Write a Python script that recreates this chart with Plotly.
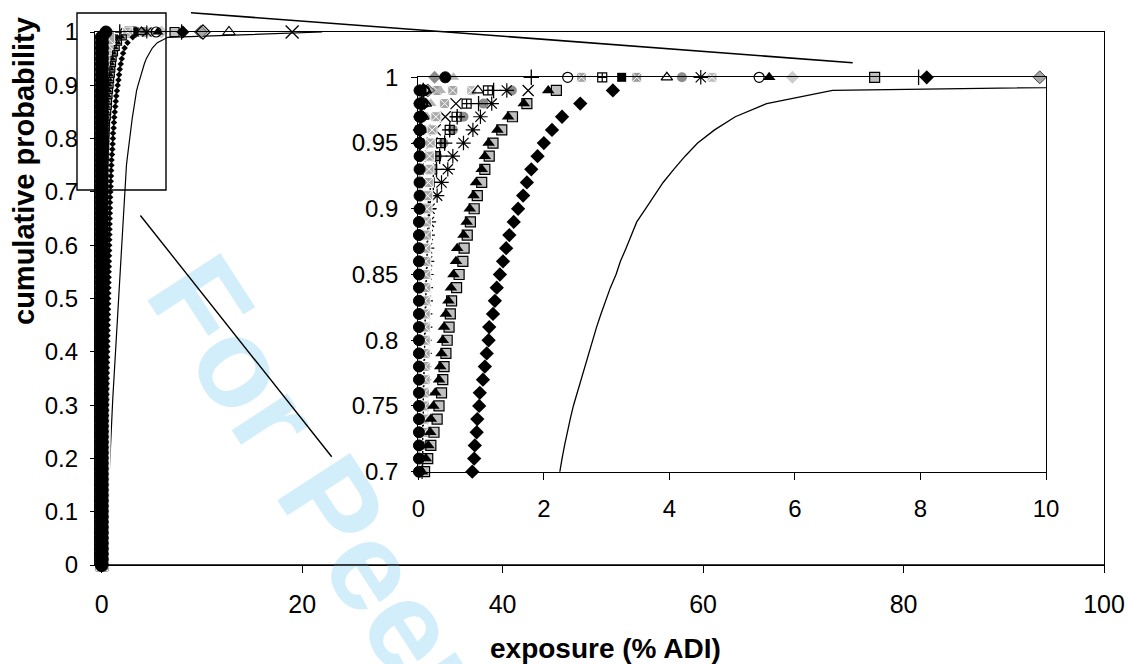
import plotly.graph_objects as go

# ---------------- data ----------------
# cumulative probability levels (percentiles) and the maximum (1.0)
prob = [0.00, 0.01, 0.02, 0.03, 0.04, 0.05, 0.06, 0.07, 0.08, 0.09,
        0.10, 0.11, 0.12, 0.13, 0.14, 0.15, 0.16, 0.17, 0.18, 0.19,
        0.20, 0.21, 0.22, 0.23, 0.24, 0.25, 0.26, 0.27, 0.28, 0.29,
        0.30, 0.31, 0.32, 0.33, 0.34, 0.35, 0.36, 0.37, 0.38, 0.39,
        0.40, 0.41, 0.42, 0.43, 0.44, 0.45, 0.46, 0.47, 0.48, 0.49,
        0.50, 0.51, 0.52, 0.53, 0.54, 0.55, 0.56, 0.57, 0.58, 0.59,
        0.60, 0.61, 0.62, 0.63, 0.64, 0.65, 0.66, 0.67, 0.68, 0.69,
        0.70, 0.71, 0.72, 0.73, 0.74, 0.75, 0.76, 0.77, 0.78, 0.79,
        0.80, 0.81, 0.82, 0.83, 0.84, 0.85, 0.86, 0.87, 0.88, 0.89,
        0.90, 0.91, 0.92, 0.93, 0.94, 0.95, 0.96, 0.97, 0.98, 0.99,
        1.00]
prob_upper = [0.90, 0.91, 0.92, 0.93, 0.94, 0.95, 0.96, 0.97, 0.98, 0.99, 1.00]
prob_top = [0.95, 0.96, 0.97, 0.98, 0.99, 1.00]

# exposure (% ADI) per series
black_circle = [
    0.00, 0.00, 0.00, 0.00, 0.00, 0.00, 0.00, 0.00, 0.00, 0.00,
    0.00, 0.00, 0.00, 0.00, 0.00, 0.00, 0.00, 0.00, 0.00, 0.00,
    0.00, 0.00, 0.00, 0.00, 0.00, 0.00, 0.00, 0.00, 0.00, 0.00,
    0.00, 0.00, 0.00, 0.00, 0.00, 0.00, 0.00, 0.00, 0.00, 0.00,
    0.00, 0.00, 0.00, 0.00, 0.00, 0.00, 0.00, 0.00, 0.00, 0.00,
    0.01, 0.01, 0.01, 0.01, 0.01, 0.01, 0.01, 0.01, 0.01, 0.01,
    0.01, 0.01, 0.01, 0.01, 0.01, 0.01, 0.01, 0.01, 0.01, 0.01,
    0.01, 0.01, 0.01, 0.01, 0.01, 0.01, 0.01, 0.01, 0.01, 0.01,
    0.01, 0.01, 0.01, 0.01, 0.01, 0.01, 0.01, 0.01, 0.01, 0.01,
    0.02, 0.02, 0.02, 0.02, 0.02, 0.02, 0.02, 0.02, 0.02, 0.02,
    0.43]
gray_square_x = [
    0.02, 0.02, 0.02, 0.03, 0.03, 0.03, 0.03, 0.03, 0.04, 0.04,
    0.04, 0.04, 0.04, 0.04, 0.05, 0.05, 0.05, 0.05, 0.05, 0.05,
    0.05, 0.05, 0.06, 0.06, 0.06, 0.06, 0.06, 0.06, 0.06, 0.06,
    0.06, 0.07, 0.07, 0.07, 0.07, 0.07, 0.07, 0.07, 0.07, 0.07,
    0.07, 0.07, 0.08, 0.08, 0.08, 0.08, 0.08, 0.08, 0.08, 0.08,
    0.08, 0.08, 0.08, 0.08, 0.09, 0.09, 0.09, 0.09, 0.09, 0.09,
    0.09, 0.09, 0.09, 0.09, 0.09, 0.09, 0.10, 0.10, 0.10, 0.10,
    0.10, 0.10, 0.10, 0.10, 0.10, 0.10, 0.10, 0.11, 0.11, 0.11,
    0.11, 0.11, 0.11, 0.11, 0.12, 0.12, 0.12, 0.12, 0.13, 0.13,
    0.14, 0.15, 0.16, 0.17, 0.18, 0.19, 0.22, 0.28, 0.42, 0.55,
    2.60]
black_triangle = [
    0.00, 0.00, 0.00, 0.00, 0.00, 0.00, 0.00, 0.00, 0.00, 0.00,
    0.00, 0.00, 0.00, 0.00, 0.00, 0.01, 0.01, 0.01, 0.01, 0.01,
    0.01, 0.01, 0.01, 0.01, 0.01, 0.01, 0.01, 0.01, 0.01, 0.01,
    0.01, 0.01, 0.01, 0.01, 0.01, 0.02, 0.02, 0.02, 0.02, 0.02,
    0.02, 0.02, 0.02, 0.02, 0.02, 0.02, 0.02, 0.02, 0.02, 0.02,
    0.02, 0.02, 0.03, 0.03, 0.03, 0.03, 0.03, 0.03, 0.03, 0.03,
    0.03, 0.03, 0.04, 0.04, 0.04, 0.04, 0.04, 0.05, 0.05, 0.05,
    0.06, 0.12, 0.16, 0.19, 0.20, 0.24, 0.27, 0.33, 0.35, 0.37,
    0.39, 0.41, 0.44, 0.48, 0.52, 0.56, 0.60, 0.62, 0.72, 0.77,
    0.82, 0.88, 0.92, 1.01, 1.06, 1.12, 1.26, 1.43, 1.68, 2.07,
    5.59]
gray_square = [
    0.00, 0.00, 0.00, 0.00, 0.00, 0.01, 0.01, 0.01, 0.01, 0.01,
    0.01, 0.01, 0.01, 0.01, 0.02, 0.02, 0.02, 0.02, 0.02, 0.02,
    0.02, 0.02, 0.02, 0.03, 0.03, 0.03, 0.03, 0.03, 0.03, 0.03,
    0.03, 0.03, 0.04, 0.04, 0.04, 0.04, 0.04, 0.04, 0.04, 0.04,
    0.04, 0.05, 0.05, 0.05, 0.05, 0.05, 0.05, 0.05, 0.05, 0.05,
    0.05, 0.06, 0.06, 0.06, 0.06, 0.06, 0.06, 0.06, 0.06, 0.07,
    0.07, 0.07, 0.07, 0.07, 0.07, 0.08, 0.08, 0.08, 0.09, 0.09,
    0.10, 0.15, 0.20, 0.25, 0.30, 0.33, 0.37, 0.39, 0.41, 0.44,
    0.46, 0.49, 0.51, 0.53, 0.61, 0.65, 0.71, 0.73, 0.78, 0.83,
    0.89, 0.94, 1.01, 1.06, 1.13, 1.19, 1.33, 1.50, 1.73, 2.20,
    7.27]
black_diamond = [
    0.02, 0.05, 0.08, 0.10, 0.12, 0.14, 0.16, 0.18, 0.19, 0.21,
    0.22, 0.24, 0.25, 0.26, 0.28, 0.29, 0.30, 0.31, 0.33, 0.34,
    0.35, 0.36, 0.37, 0.38, 0.39, 0.40, 0.41, 0.42, 0.43, 0.44,
    0.45, 0.46, 0.47, 0.48, 0.49, 0.50, 0.51, 0.52, 0.53, 0.54,
    0.55, 0.56, 0.57, 0.58, 0.59, 0.60, 0.61, 0.62, 0.63, 0.64,
    0.65, 0.66, 0.67, 0.68, 0.69, 0.70, 0.71, 0.72, 0.73, 0.74,
    0.75, 0.76, 0.77, 0.78, 0.79, 0.80, 0.81, 0.82, 0.83, 0.84,
    0.86, 0.89, 0.90, 0.93, 0.94, 0.97, 0.98, 1.03, 1.06, 1.09,
    1.12, 1.13, 1.19, 1.22, 1.25, 1.30, 1.35, 1.40, 1.45, 1.52,
    1.59, 1.67, 1.73, 1.80, 1.90, 2.00, 2.13, 2.29, 2.58, 3.10,
    8.10]
asterisk = [
    0.00, 0.00, 0.00, 0.00, 0.00, 0.00, 0.00, 0.00, 0.00, 0.00,
    0.00, 0.00, 0.00, 0.00, 0.00, 0.00, 0.00, 0.01, 0.01, 0.01,
    0.01, 0.01, 0.01, 0.01, 0.01, 0.01, 0.01, 0.01, 0.01, 0.01,
    0.01, 0.01, 0.01, 0.02, 0.02, 0.02, 0.02, 0.02, 0.02, 0.02,
    0.02, 0.02, 0.02, 0.02, 0.02, 0.02, 0.03, 0.03, 0.03, 0.03,
    0.03, 0.03, 0.03, 0.03, 0.03, 0.04, 0.04, 0.04, 0.04, 0.04,
    0.04, 0.04, 0.05, 0.05, 0.05, 0.05, 0.05, 0.06, 0.06, 0.06,
    0.06, 0.07, 0.07, 0.07, 0.08, 0.08, 0.08, 0.09, 0.09, 0.10,
    0.10, 0.11, 0.11, 0.12, 0.12, 0.13, 0.14, 0.14, 0.15, 0.17,
    0.18, 0.30, 0.37, 0.47, 0.55, 0.72, 0.87, 0.99, 1.17, 1.41,
    4.50]
most_exposed = [
    0.25, 0.32, 0.37, 0.41, 0.44, 0.47, 0.50, 0.53, 0.56, 0.58,
    0.61, 0.63, 0.65, 0.67, 0.69, 0.71, 0.73, 0.75, 0.77, 0.79,
    0.81, 0.83, 0.85, 0.87, 0.89, 0.92, 0.95, 0.98, 1.01, 1.04,
    1.07, 1.10, 1.13, 1.16, 1.19, 1.22, 1.25, 1.28, 1.31, 1.34,
    1.37, 1.40, 1.43, 1.46, 1.49, 1.52, 1.55, 1.58, 1.61, 1.64,
    1.67, 1.70, 1.73, 1.76, 1.79, 1.82, 1.85, 1.88, 1.91, 1.94,
    1.97, 1.99, 2.02, 2.05, 2.08, 2.11, 2.14, 2.16, 2.19, 2.22,
    2.25, 2.29, 2.33, 2.37, 2.42, 2.47, 2.53, 2.59, 2.65, 2.71,
    2.77, 2.84, 2.91, 2.98, 3.06, 3.15, 3.22, 3.31, 3.39, 3.48,
    3.62, 3.76, 3.90, 4.07, 4.25, 4.45, 4.72, 5.05, 5.55, 6.60,
    22.0]

# series whose upper tail is visible (levels 0.90 ... 1.00)
gray_circle = [0.10, 0.13, 0.17, 0.22, 0.30, 0.40, 0.55, 0.72, 1.04, 1.49, 4.20]
x_cross = [0.10, 0.12, 0.14, 0.16, 0.19, 0.22, 0.27, 0.43, 0.60, 1.75, 19.0]
square_cross = [0.12, 0.15, 0.18, 0.22, 0.28, 0.36, 0.50, 0.61, 0.77, 1.11, 2.93]
plus = [0.16, 0.19, 0.24, 0.29, 0.34, 0.42, 0.50, 0.62, 0.96, 1.20, 1.80]
gray_triangle = [0.04, 0.05, 0.06, 0.07, 0.08, 0.09, 0.11, 0.14, 0.20, 0.35, 0.56]
light_square_x = [0.10, 0.11, 0.12, 0.14, 0.16, 0.20, 0.24, 0.30, 0.40, 0.85, 4.68]

# series visible only at the very top (levels 0.95 ... 1.00)
open_diamond = [0.02, 0.03, 0.04, 0.05, 0.08, 10.1]
open_triangle_a = [0.03, 0.04, 0.05, 0.07, 0.12, 12.7]
open_triangle_b = [0.05, 0.06, 0.08, 0.12, 0.95, 3.96]
open_circle_a = [0.02, 0.03, 0.04, 0.06, 0.09, 2.38]
open_circle_b = [0.03, 0.04, 0.05, 0.07, 0.10, 5.43]
black_square = [0.02, 0.02, 0.03, 0.04, 0.06, 3.24]
gray_diamond_a = [0.01, 0.01, 0.02, 0.02, 0.03, 0.26]
gray_diamond_b = [0.03, 0.04, 0.06, 0.09, 0.15, 9.90]
light_diamond = [0.02, 0.03, 0.04, 0.05, 0.07, 5.96]
bar_marker = [0.02, 0.03, 0.04, 0.05, 0.08, 7.97]
mid_square_x = [0.04, 0.05, 0.07, 0.10, 0.30, 3.48]

main_xticks = [0, 20, 40, 60, 80, 100]
main_yticks = [0, 0.1, 0.2, 0.3, 0.4, 0.5, 0.6, 0.7, 0.8, 0.9, 1]
main_yticktext = ["0", "0.1", "0.2", "0.3", "0.4", "0.5", "0.6", "0.7", "0.8", "0.9", "1"]
inset_xticks = [0, 2, 4, 6, 8, 10]
inset_yticks = [0.7, 0.75, 0.8, 0.85, 0.9, 0.95, 1.0]
inset_yticktext = ["0.7", "0.75", "0.8", "0.85", "0.9", "0.95", "1"]

# ---------------- figure ----------------
W, H = 1130, 664
ML, MR, MT, MB = 95, 26, 32, 99
PW, PH = W - ML - MR, H - MT - MB


def pxx(p):
    return (p - ML) / PW


def pxy(p):
    return (H - MB - p) / PH


BLACK = "black"
fig = go.Figure()

# (x, y, symbol, fill, line colour, line width, main size, main max size, inset size)
series = [
    (light_square_x, prob_upper, "square-x", "#bdbdbd", "white", 1, 6, 10, 10),
    (mid_square_x, prob_top, "square-x", "#9a9a9a", "white", 1, 6, 10, 10),
    (gray_circle, prob_upper, "circle", "#8c8c8c", "#8c8c8c", 0, 6, 10, 10),
    (gray_triangle, prob_upper, "triangle-up", "#b4b4b4", "#b4b4b4", 0, 6, 10, 10),
    (gray_diamond_a, prob_top, "diamond", "#8c8c8c", "#8c8c8c", 0, 6, 10, 10),
    (gray_diamond_b, prob_top, "diamond", "#a6a6a6", "#444444", 1, 6, 10, 10),
    (light_diamond, prob_top, "diamond", "#cccccc", "#cccccc", 0, 6, 10, 10),
    (open_diamond, prob_top, "diamond-open", BLACK, BLACK, 1.2, 6, 11, 10),
    (open_triangle_a, prob_top, "triangle-up-open", BLACK, BLACK, 1.2, 6, 11, 10),
    (open_triangle_b, prob_top, "triangle-up-open", BLACK, BLACK, 1.2, 6, 10, 10),
    (open_circle_a, prob_top, "circle-open", BLACK, BLACK, 1.2, 6, 10, 10),
    (open_circle_b, prob_top, "circle-open", BLACK, BLACK, 1.2, 6, 10, 10),
    (black_square, prob_top, "square", BLACK, BLACK, 0, 6, 9, 9),
    (bar_marker, prob_top, "line-ns-open", BLACK, BLACK, 1.3, 6, 11, 11),
    (square_cross, prob_upper, "square-cross-open", BLACK, BLACK, 1.2, 5, 10, 9),
    (plus, prob_upper, "cross-thin-open", BLACK, BLACK, 1.3, 5, 11, 11),
    (x_cross, prob_upper, "x-thin-open", BLACK, BLACK, 1.3, 5, 13, 11),
    (asterisk, prob, "asterisk-open", BLACK, BLACK, 1.2, 5, 11, 12),
    (gray_square_x, prob, "square-x", "#a6a6a6", "white", 1, 15, 10, 10),
    (gray_square, prob, "square", "#c0c0c0", BLACK, 1.2, 5, 9, 10),
    (black_triangle, prob, "triangle-up", BLACK, BLACK, 0, 5, 10, 11),
    (black_diamond, prob, "diamond", BLACK, BLACK, 0, 5, 10, 11),
    (black_circle, prob, "circle", BLACK, BLACK, 1, 13, 12, 11),
]

# the most exposed population: line only
fig.add_trace(go.Scatter(x=most_exposed, y=prob, mode="lines",
                         line=dict(color=BLACK, width=1.2),
                         xaxis="x", yaxis="y", hoverinfo="skip"))
fig.add_trace(go.Scatter(x=most_exposed, y=prob, mode="lines",
                         line=dict(color=BLACK, width=1.3),
                         xaxis="x2", yaxis="y2", hoverinfo="skip"))

for xs, ys, sym, fill, lc, lw, ms, mmax, isz in series:
    sizes = [ms] * (len(xs) - 1) + [mmax]
    fig.add_trace(go.Scatter(
        x=xs, y=ys, mode="markers", xaxis="x", yaxis="y", cliponaxis=False,
        marker=dict(symbol=sym, size=sizes, color=fill, opacity=1,
                    line=dict(color=lc, width=lw)),
        hoverinfo="skip"))
    pts = [(a, b) for a, b in zip(xs, ys) if b >= 0.7 and a <= 10]
    fig.add_trace(go.Scatter(
        x=[p[0] for p in pts], y=[p[1] for p in pts], mode="markers",
        xaxis="x2", yaxis="y2", cliponaxis=False,
        marker=dict(symbol=sym, size=isz, color=fill, opacity=1,
                    line=dict(color=lc, width=lw)),
        hoverinfo="skip"))

axis_common = dict(showline=True, linecolor=BLACK, linewidth=1.3, mirror=True,
                   ticks="outside", tickcolor=BLACK, tickwidth=1.2,
                   showgrid=False, zeroline=False, automargin=False)

fig.update_layout(
    width=W, height=H, autosize=False,
    margin=dict(l=ML, r=MR, t=MT, b=MB, autoexpand=False),
    paper_bgcolor="white", plot_bgcolor="white",
    showlegend=False,
    font=dict(family="Liberation Sans, Arial, sans-serif", color=BLACK),
    xaxis=dict(domain=[0, 1], range=[-0.668, 100], tickvals=main_xticks,
               ticklen=7, tickfont=dict(size=25), ticklabelstandoff=10,
               **axis_common),
    yaxis=dict(domain=[0, 1], range=[0, 1], tickvals=main_yticks,
               ticktext=main_yticktext, ticklen=4, tickfont=dict(size=24),
               ticklabelstandoff=7, **axis_common),
    xaxis2=dict(domain=[pxx(418.3), pxx(1046)], anchor="y2", range=[0, 10],
                tickvals=inset_xticks, ticklen=7, tickfont=dict(size=24),
                ticklabelstandoff=8, **axis_common),
    yaxis2=dict(domain=[pxy(471.7), pxy(77.3)], anchor="x2", range=[0.7, 1.0],
                tickvals=inset_yticks, ticktext=inset_yticktext, ticklen=6,
                tickfont=dict(size=24), ticklabelstandoff=8, **axis_common),
)

# zoom indicator: rectangle and connector lines
fig.add_shape(type="rect", xref="paper", yref="paper",
              x0=pxx(77), x1=pxx(166), y0=pxy(190), y1=pxy(13),
              line=dict(color=BLACK, width=1.4), layer="above")
fig.add_shape(type="line", xref="paper", yref="paper",
              x0=pxx(191), y0=pxy(12.7), x1=pxx(852.7), y1=pxy(62.7),
              line=dict(color=BLACK, width=1.6), layer="above")

# watermark
fig.add_annotation(text="For Peer", xref="paper", yref="paper",
                   x=pxx(318), y=pxy(484), xanchor="center", yanchor="middle",
                   showarrow=False, textangle=57,
                   font=dict(size=126, color="#d2eefa",
                             family="Liberation Sans, Arial, sans-serif",
                             weight="bold"))

# second connector line, drawn above the watermark
fig.add_annotation(text="", xref="paper", yref="paper",
                   x=pxx(331.7), y=pxy(456.7), ax=140 - 331.7, ay=215 - 456.7,
                   showarrow=True, arrowhead=0, arrowwidth=1.4,
                   arrowcolor=BLACK, standoff=0, startstandoff=0, borderpad=0)
# bottom axis line above the watermark
fig.add_annotation(text="", xref="paper", yref="paper",
                   x=1, y=0, ax=-PW, ay=0,
                   showarrow=True, arrowhead=0, arrowwidth=1.3,
                   arrowcolor=BLACK, standoff=0, startstandoff=0, borderpad=0)

# axis titles
fig.add_annotation(text="cumulative probability", xref="paper", yref="paper",
                   x=pxx(24), y=pxy(171), xanchor="center", yanchor="middle",
                   showarrow=False, textangle=-90,
                   font=dict(size=29, weight="bold"))
fig.add_annotation(text="exposure (% ADI)", xref="paper", yref="paper",
                   x=pxx(605), y=pxy(648), xanchor="center", yanchor="middle",
                   showarrow=False,
                   font=dict(size=28, weight="bold"))

fig.write_html("out.html", config={"displayModeBar": False},
               post_script="document.body.style.margin='0';")
